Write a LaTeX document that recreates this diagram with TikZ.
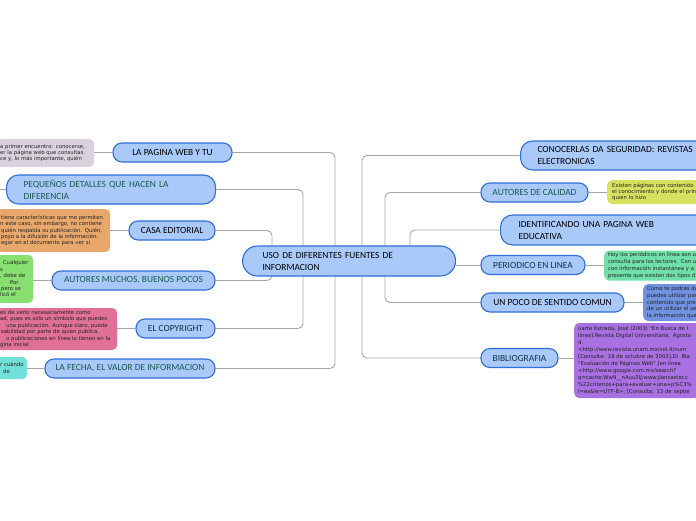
\documentclass[tikz,border=0pt]{standalone}
\usepackage{fontspec}
\setmainfont{Carlito}
\newfontfamily\notefont{DejaVu Sans}
\usetikzlibrary{backgrounds}
\definecolor{topicfill}{HTML}{A9C9F9}
\definecolor{topicline}{HTML}{2F6FD8}
\definecolor{linkgray}{HTML}{A6A6A6}
\definecolor{tealtext}{HTML}{1C5A50}
\definecolor{navytext}{HTML}{15304A}
\definecolor{notetext}{HTML}{222222}
\definecolor{cLav}{HTML}{D9D1DE}
\definecolor{cOra}{HTML}{E8A86C}
\definecolor{cGre}{HTML}{88E070}
\definecolor{cPin}{HTML}{E07098}
\definecolor{cCya}{HTML}{70E0D8}
\definecolor{cYel}{HTML}{D8E060}
\definecolor{cMin}{HTML}{70E0A8}
\definecolor{cBlu}{HTML}{7090E0}
\definecolor{cPur}{HTML}{A870E0}
\begin{document}
\begin{tikzpicture}[x=1pt,y=-1pt,
 topic/.style={draw=topicline, fill=topicfill, line width=1.1pt, rounded corners=9pt,
   font=\fontsize{9.4}{12}\selectfont, inner sep=0pt, minimum height=19pt},
 topictwo/.style={topic, rounded corners=12pt, minimum height=29pt, align=left, inner xsep=17pt, anchor=west},
 note/.style={rounded corners=5pt, font=\notefont\fontsize{5.3}{6.4}\selectfont, text=notetext, inner ysep=0pt, align=left},
 lnote/.style={note, anchor=west, inner xsep=4pt},
 rnote/.style={note, anchor=west, inner xsep=4pt, text width=160pt},
 link/.style={draw=linkgray, line width=0.9pt, rounded corners=5pt}]
\useasboundingbox (0,0) rectangle (696,520);

% central
\node[topictwo, text width=173pt, minimum height=30pt, rounded corners=15pt, inner xsep=20pt] (c) at (242,261) {USO DE DIFERENTES FUENTES DE\\INFORMACION};

% left topics
\node[topic, minimum width=119pt] (pagina) at (172.5,152.5) {LA PAGINA WEB Y TU};
\node[topictwo, text width=175pt, text=tealtext] (detalles) at (6,189.5) {PEQUEÑOS DETALLES QUE HACEN LA\\DIFERENCIA};
\node[topic, minimum width=86pt] (casa) at (172,230.5) {CASA EDITORIAL};
\node[topic, minimum width=163pt, text=tealtext] (muchos) at (133.5,280.5) {AUTORES MUCHOS, BUENOS POCOS};
\node[topic, minimum width=79pt, text=navytext] (copy) at (175.5,328.5) {EL COPYRIGHT};
\node[topic, minimum width=170pt, text=tealtext] (fecha) at (130,368.5) {LA FECHA, EL VALOR DE INFORMACION};

% right topics
\node[topictwo, text width=200pt] (conocer) at (520,155.5) {CONOCERLAS DA SEGURIDAD: REVISTAS\\ELECTRONICAS};
\node[topic, minimum width=107pt, text=tealtext] (calidad) at (534.5,192.5) {AUTORES DE CALIDAD};
\node[topictwo, text width=200pt, minimum height=30pt, inner xsep=18pt] (identif) at (500,230) {IDENTIFICANDO UNA PAGINA WEB\\EDUCATIVA};
\node[topic, minimum width=104pt, text=navytext] (periodico) at (533,265) {PERIODICO EN LINEA};
\node[topic, minimum width=143pt] (poco) at (552.5,302.5) {UN POCO DE SENTIDO COMUN};
\node[topic, minimum width=77pt, text=navytext] (biblio) at (519.5,358) {BIBLIOGRAFIA};

% left notes
\node[lnote, fill=cLav, text width=90pt, minimum height=28pt] (nlav) at (-4,153) {a primer encuentro: conocerse,\\er la página web que consultas.\\ce y, lo más importante, quién};
\node[lnote, fill=cOra, text width=106pt, minimum height=43pt] (nora) at (-4,230.5) {\hspace*{1pt}tiene características que me permiten\\n este caso, sin embargo, no contiene\\\hspace*{1pt}quién respalda su publicación. Quién,\\\hspace*{1pt}poyo a la difusión de la información.\\\hspace*{1pt}egar en el documento para ver si};
\node[lnote, fill=cGre, text width=29pt, minimum height=48pt] (ngre) at (-4,279) {\hspace*{3pt}Cualquier\\s\\, debe de\\\hspace*{10pt}Por\\\hspace*{1pt}pero se\\licó el};
\node[lnote, fill=cPin, text width=113pt, minimum height=42pt] (npin) at (-4,329) {es de verlo necesariamente como\\ad, pues es sólo un símbolo que puedes\\\hspace*{6pt}una publicación. Aunque claro, puede\\\hspace*{1pt}sabilidad por parte de quien publica.\\\hspace*{6pt}o publicaciones en línea lo tienen en la\\gina inicial};
\node[lnote, fill=cCya, text width=23pt, minimum height=22pt] (ncya) at (-4,368) {\mbox{r cuándo}\\\hspace*{3pt}de};
\coordinate (detoff) at (-5,189.5);

% right notes
\node[rnote, fill=cYel, minimum height=24pt, inner xsep=5pt] (nyel) at (607,192) {Existen páginas con contenido\\el conocimiento y donde el prin\\quien lo hizo};
\node[rnote, fill=cMin, minimum height=30pt, font=\notefont\fontsize{5.3}{7}\selectfont] (nmin) at (604,265.5) {Hoy los periódicos en línea son u\\consulta para los lectores. Con u\\con información instantánea y a\\presente que existen dos tipos d};
\node[rnote, fill=cBlu, minimum height=37pt, font=\notefont\fontsize{5.3}{6.6}\selectfont] (nblu) at (643,302.5) {Como te podrás da\\puedes utilizar par\\contenido que pres\\de un utilizar el se\\la información que};
\node[rnote, fill=cPur, minimum height=75pt, font=\notefont\fontsize{5.3}{7}\selectfont] (npur) at (574,360.5) {uarte Estrada, José (2003) "En Busca de l\\línea].Revista Digital Universitaria. Agosto\\4.\\<http://www.revista.unam.mx/vol.4/num\\{}[Consulta: 18 de octubre de 2003].Di\ \ Bla\\"Evaluación de Páginas Web" [en línea\\<http://www.google.com.mx/search?\\q=cache:Ww9\_\_nAuu3IJ:www.jlancaster.c\\\%22criterios+para+evaluar+una+p\%C3\%\\l=es\&ie=UTF-8>; [Consulta: 13 de septie};

\begin{pgfonlayer}{background}
\fill[white] (0,0) rectangle (696,520);
\draw[link] (pagina.east) -| ([xshift=93pt]c.west);
\draw[link] (detalles.east) -| ([xshift=61pt]c.west);
\draw[link] (casa.east) -| ([xshift=30pt]c.west);
\draw[link] (muchos.east) -| ([xshift=30pt]c.west);
\draw[link] (copy.east) -| ([xshift=61pt]c.west);
\draw[link] (fecha.east) -| ([xshift=93pt]c.west);
\draw[link] (conocer.west) -| ([xshift=120pt]c.west);
\draw[link] (calidad.west) -| ([xshift=143pt]c.west);
\draw[link] (identif.west) -| ([xshift=168pt]c.west);
\draw[link] (periodico.west) -- (periodico.west -| c.east);
\draw[link] (poco.west) -| ([xshift=143pt]c.west);
\draw[link] (biblio.west) -| ([xshift=120pt]c.west);
\draw[link] (pagina.west) -- (pagina.west -| nlav.east);
\draw[link] (casa.west) -- (casa.west -| nora.east);
\draw[link] (muchos.west) -- (muchos.west -| ngre.east);
\draw[link] (copy.west) -- (copy.west -| npin.east);
\draw[link] (fecha.west) -- (fecha.west -| ncya.east);
\draw[link] (detalles.west) -- (detoff);
\draw[link] (calidad.east) -- (calidad.east -| nyel.west);
\draw[link] (periodico.east) -- (periodico.east -| nmin.west);
\draw[link] (poco.east) -- (poco.east -| nblu.west);
\draw[link] (biblio.east) -- (biblio.east -| npur.west);
\end{pgfonlayer}
\end{tikzpicture}
\end{document}
